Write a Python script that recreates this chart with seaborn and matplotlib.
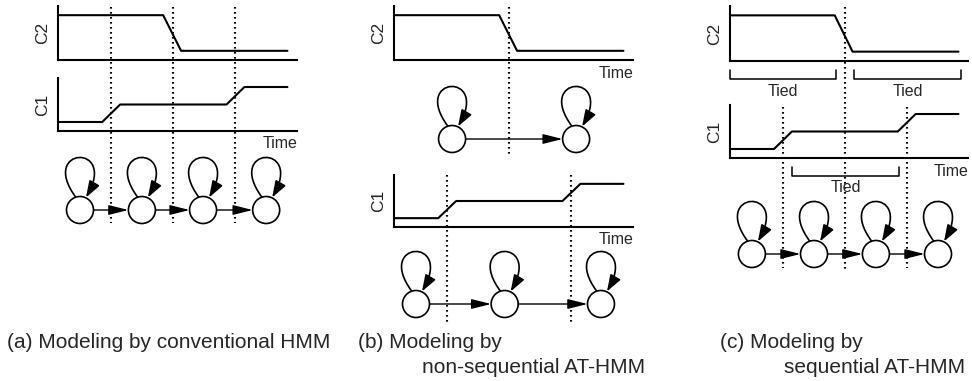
import matplotlib
matplotlib.use("Agg")
import matplotlib.pyplot as plt
import seaborn as sns
from matplotlib.patches import Circle, FancyArrowPatch
from matplotlib.path import Path

# signals (time on 0..1, level on 0..1), same shapes in all three panels
c2_time = [0.0, 0.44, 0.515, 0.96]
c2_level = [0.83, 0.83, 0.17, 0.17]
c1_time = [0.0, 0.185, 0.26, 0.705, 0.78, 0.96]
c1_level = [0.17, 0.17, 0.5, 0.5, 0.83, 0.83]

# state boundaries (dotted lines)
c2_bounds = [0.482]
c1_bounds = [0.222, 0.742]

# state positions along time axis
states_a = [0.092, 0.351, 0.607, 0.871]
states_b_c2 = [0.243, 0.762]
states_b_c1 = [0.092, 0.463, 0.866]
states_c = [0.092, 0.353, 0.613, 0.874]

# tied brackets in panel (c): (start, end) in time units
tied_c2 = [(0.0, 0.445), (0.521, 0.97)]
tied_c1 = [(0.26, 0.71)]

captions = [
    ("(a) Modeling by conventional HMM", ""),
    ("(b) Modeling by", "non-sequential AT-HMM"),
    ("(c) Modeling by", "sequential AT-HMM"),
]

sns.set_style("white")
plt.rcParams["font.family"] = ["Liberation Sans", "DejaVu Sans"]

W, H = 972, 381
fig = plt.figure(figsize=(W / 100, H / 100), dpi=100)
ov = fig.add_axes([0, 0, 1, 1])
ov.set_xlim(0, W)
ov.set_ylim(H, 0)
ov.axis("off")


def signal_axes(x0, x1, top, bottom, t, lv, label, time_label):
    ax = fig.add_axes([x0 / W, 1 - bottom / H, (x1 - x0) / W, (bottom - top) / H])
    ax.patch.set_alpha(0)
    sns.lineplot(x=t, y=lv, ax=ax, color="black", lw=1.5)
    ax.set_xlim(0, 1)
    ax.set_ylim(0, 1)
    ax.set_xticks([])
    ax.set_yticks([])
    ax.set_xlabel("")
    ax.set_ylabel("")
    for s in ["top", "right"]:
        ax.spines[s].set_visible(False)
    for s in ["left", "bottom"]:
        ax.spines[s].set_color("black")
        ax.spines[s].set_linewidth(1.5)
    ov.text(x0 - 15, (top + bottom) / 2, label, rotation=90, ha="center",
            va="center", fontsize=12.5)
    if time_label:
        ov.text(x1, bottom + 13, "Time", ha="right", va="center", fontsize=11.5)
    return ax


def to_px(ax, t):
    disp = ax.transData.transform((t, 0))
    return ov.transData.inverted().transform(disp)[0]


def dotted(ax, times, y0, y1):
    for t in times:
        x = to_px(ax, t)
        ov.plot([x, x], [y0, y1], color="black", lw=1.5,
                linestyle=(0, (0.8, 1.6)), dash_capstyle="butt")


def state_chain(ax, times, cy, r=13.5):
    xs = [to_px(ax, t) for t in times]
    for cx in xs:
        ov.add_patch(Circle((cx, cy), r, fill=True, facecolor="white",
                            edgecolor="black", lw=1.2, zorder=3))
        top = cy - r
        verts = [(cx - 4, top + 1), (cx - 42, top - 50), (cx + 38, top - 54),
                 (cx + 6, top + 1)]
        codes = [Path.MOVETO, Path.CURVE4, Path.CURVE4, Path.CURVE4]
        ov.add_patch(FancyArrowPatch(path=Path(verts, codes),
                                     arrowstyle="-|>,head_length=1.0,head_width=0.35",
                                     mutation_scale=10, lw=1.2, color="black",
                                     zorder=2))
    for a, b in zip(xs[:-1], xs[1:]):
        ov.add_patch(FancyArrowPatch((a + r, cy), (b - r, cy),
                                     arrowstyle="-|>,head_length=1.2,head_width=0.3",
                                     mutation_scale=10, lw=1.0, color="black",
                                     shrinkA=0, shrinkB=0, zorder=2))


def bracket(ax, t0, t1, y, label):
    x0, x1 = to_px(ax, t0), to_px(ax, t1)
    ov.plot([x0, x0, x1, x1], [y - 9, y, y, y - 9], color="black", lw=1.1)
    ov.text((x0 + x1) / 2, y + 12, label, ha="center", va="center", fontsize=11.5)


# panel (a)
a2 = signal_axes(58, 297, 6, 60, c2_time, c2_level, "C2", False)
a1 = signal_axes(58, 297, 78, 131, c1_time, c1_level, "C1", True)
dotted(a2, c2_bounds, 7, 223)
dotted(a1, c1_bounds, 7, 223)
state_chain(a1, states_a, 210)

# panel (b)
b2 = signal_axes(394, 633, 6, 60, c2_time, c2_level, "C2", True)
b1 = signal_axes(394, 633, 175, 227, c1_time, c1_level, "C1", True)
dotted(b2, c2_bounds, 7, 155)
dotted(b1, c1_bounds, 175, 322)
state_chain(b2, states_b_c2, 139)
state_chain(b1, states_b_c1, 304)

# panel (c)
k2 = signal_axes(730, 968, 6, 61, c2_time, c2_level, "C2", False)
k1 = signal_axes(730, 968, 105, 158, c1_time, c1_level, "C1", True)
dotted(k2, c2_bounds, 7, 270)
dotted(k1, c1_bounds, 107, 268)
for t0, t1 in tied_c2:
    bracket(k2, t0, t1, 79, "Tied")
for t0, t1 in tied_c1:
    bracket(k1, t0, t1, 176, "Tied")
state_chain(k1, states_c, 254)

# captions
ov.text(7, 348, captions[0][0], fontsize=15, va="baseline")
ov.text(358, 348, captions[1][0], fontsize=15, va="baseline")
ov.text(645, 373, captions[1][1], fontsize=15, va="baseline", ha="right")
ov.text(720, 348, captions[2][0], fontsize=15, va="baseline")
ov.text(965, 373, captions[2][1], fontsize=15, va="baseline", ha="right")

fig.savefig("out.png", dpi=100)
